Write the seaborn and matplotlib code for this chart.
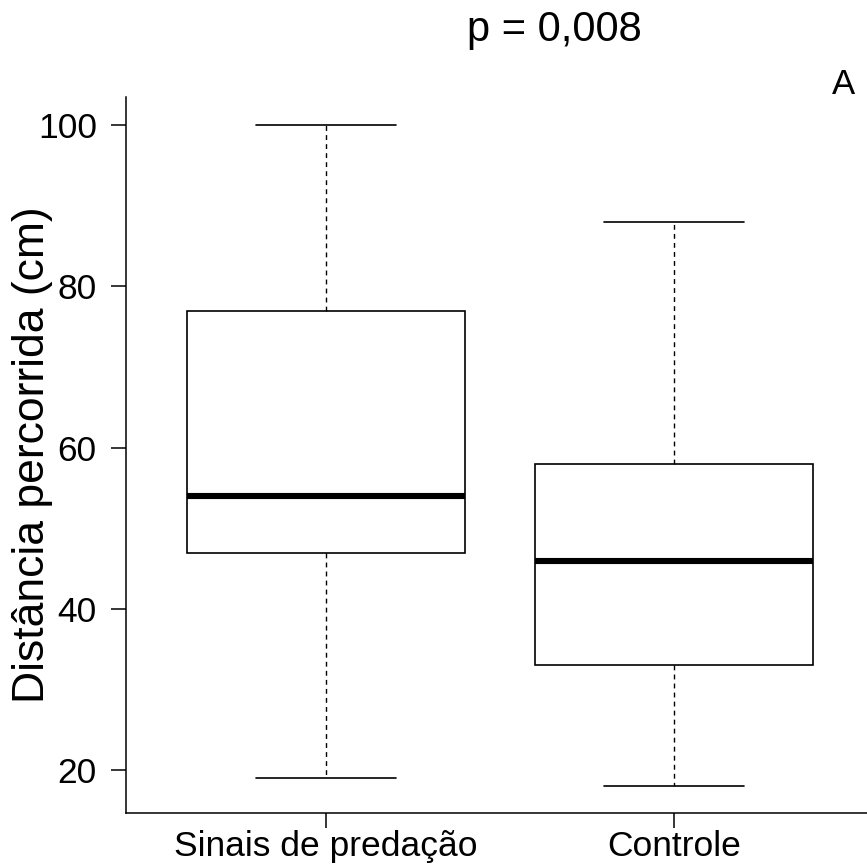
import pandas as pd
import matplotlib
matplotlib.use("Agg")
import matplotlib.pyplot as plt
import seaborn as sns

# valores (min, Q1, mediana, Q3, max)
grupos = ["Sinais de predação", "Controle"]
sinais = [19, 47, 54, 77, 100]
controle = [18, 33, 46, 58, 88]

df = pd.DataFrame({
    "grupo": [grupos[0]] * len(sinais) + [grupos[1]] * len(controle),
    "distancia": sinais + controle,
})

sns.set_style("ticks")
plt.rcParams["font.family"] = ["Liberation Sans", "DejaVu Sans"]
plt.rcParams["text.color"] = "black"
plt.rcParams["axes.labelcolor"] = "black"

fig = plt.figure(figsize=(8.67, 8.64), dpi=100)
ax = fig.add_axes([126 / 867, 1 - 813 / 864, (867 - 126) / 867, (813 - 97) / 864])

sns.boxplot(
    data=df, x="grupo", y="distancia", order=grupos, ax=ax,
    color="white", linecolor="black", linewidth=1.2, width=0.8,
    whis=(0, 100), fliersize=0,
    medianprops={"linewidth": 4.4, "color": "black"},
    whiskerprops={"linestyle": (0, (3.5, 3)), "linewidth": 1.0},
    capprops={"linewidth": 1.2},
)

ax.set_xlim(-0.575, 1.555)
ax.set_ylim(14.7, 103.5)
ax.set_yticks([20, 40, 60, 80, 100])
ax.set_xlabel("")
ax.set_ylabel("Distância percorrida (cm)", fontsize=32, va="center")
ax.yaxis.set_label_coords(-93 / 741, 0.5)
ax.tick_params(axis="both", labelsize=25.5, length=11, width=1.1,
               colors="black", labelcolor="black")
ax.tick_params(axis="x", pad=1)
ax.tick_params(axis="y", pad=10)
for side in ["top", "right"]:
    ax.spines[side].set_visible(False)
for side in ["left", "bottom"]:
    ax.spines[side].set_linewidth(1.1)
    ax.spines[side].set_color("black")

fig.text(554 / 867, 1 - 30 / 864, "p = 0,008", fontsize=30, ha="center", va="center")
fig.text(844 / 867, 1 - 85 / 864, "A", fontsize=25, ha="center", va="center")

fig.savefig("out.png", dpi=100, facecolor="white")
